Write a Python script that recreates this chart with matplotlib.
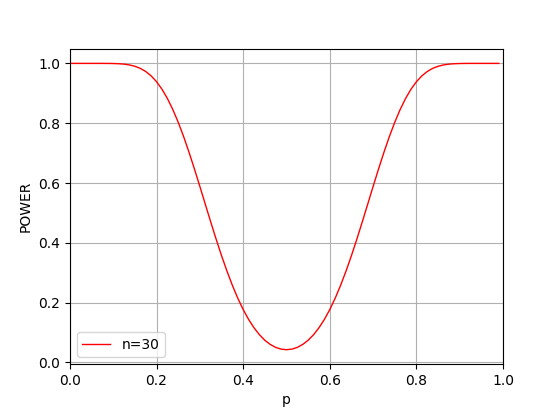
import matplotlib
matplotlib.use('Agg')
import matplotlib.pyplot as plt

# Power curve values (n=30)
p_values = [0.0000, 0.0250, 0.0500, 0.0750, 0.0875, 0.1000, 0.1125, 0.1250,
            0.1375, 0.1500, 0.1625, 0.1750, 0.1875, 0.2000, 0.2125, 0.2250,
            0.2375, 0.2500, 0.2625, 0.2750, 0.2875, 0.3000, 0.3125, 0.3250,
            0.3375, 0.3500, 0.3625, 0.3750, 0.3875, 0.4000, 0.4125, 0.4250,
            0.4375, 0.4500, 0.4625, 0.4750, 0.4875, 0.5000,
            0.5125, 0.5250, 0.5375, 0.5500, 0.5625, 0.5750, 0.5875, 0.6000,
            0.6125, 0.6250, 0.6375, 0.6500, 0.6625, 0.6750, 0.6875, 0.7000,
            0.7125, 0.7250, 0.7375, 0.7500, 0.7625, 0.7750, 0.7875, 0.8000,
            0.8125, 0.8250, 0.8375, 0.8500, 0.8625, 0.8750, 0.8875, 0.9000,
            0.9125, 0.9250, 0.9500, 0.9750, 0.9900]
power_values = [1.0000, 1.0000, 1.0000, 1.0000, 0.9999, 0.9996, 0.9989, 0.9975,
                0.9949, 0.9904, 0.9834, 0.9730, 0.9584, 0.9389, 0.9139, 0.8830,
                0.8461, 0.8034, 0.7555, 0.7030, 0.6471, 0.5888, 0.5295, 0.4704,
                0.4128, 0.3576, 0.3059, 0.2583, 0.2152, 0.1771, 0.1441, 0.1161,
                0.0929, 0.0744, 0.0604, 0.0505, 0.0447, 0.0428,
                0.0447, 0.0505, 0.0604, 0.0744, 0.0929, 0.1161, 0.1441, 0.1771,
                0.2152, 0.2583, 0.3059, 0.3576, 0.4128, 0.4704, 0.5295, 0.5888,
                0.6471, 0.7030, 0.7555, 0.8034, 0.8461, 0.8830, 0.9139, 0.9389,
                0.9584, 0.9730, 0.9834, 0.9904, 0.9949, 0.9975, 0.9989, 0.9996,
                0.9999, 1.0000, 1.0000, 1.0000, 1.0000]

plt.figure(figsize=(5.59, 4.09), dpi=100)
plt.plot(p_values, power_values, color='red', linewidth=1, label='n=30')
plt.xlim(0, 1)
plt.xlabel('p')
plt.ylabel('POWER')
plt.grid(True)
plt.legend(loc='lower left')
plt.savefig('out.png', dpi=100)
